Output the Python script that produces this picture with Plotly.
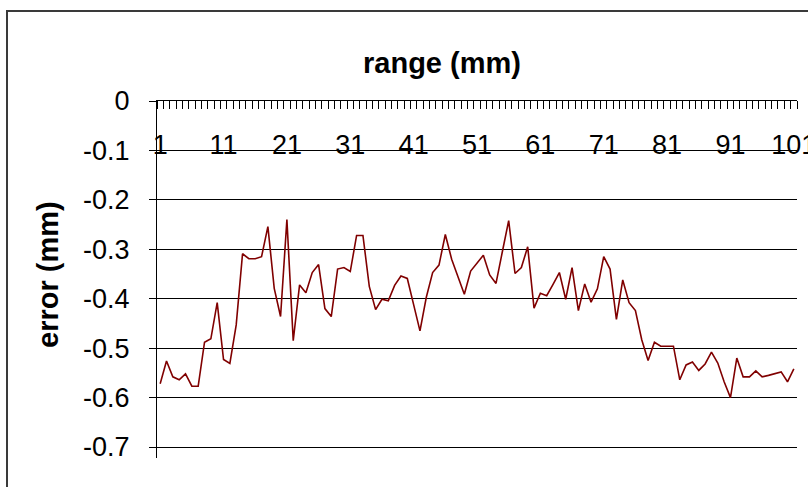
import plotly.graph_objects as go

# Position along the range (categories 1..101) and measured error
positions = list(range(1, 102))
error_mm = [
    -0.572, -0.526, -0.558, -0.564, -0.552, -0.577, -0.577, -0.488, -0.481, -0.408,
    -0.523, -0.531, -0.453, -0.309, -0.319, -0.319, -0.315, -0.254, -0.379, -0.436,
    -0.240, -0.485, -0.372, -0.388, -0.347, -0.331, -0.420, -0.436, -0.340, -0.337,
    -0.345, -0.272, -0.272, -0.375, -0.422, -0.401, -0.404, -0.373, -0.354, -0.359,
    -0.412, -0.465, -0.397, -0.347, -0.332, -0.270, -0.320, -0.354, -0.391, -0.344,
    -0.329, -0.312, -0.352, -0.369, -0.305, -0.242, -0.349, -0.337, -0.295, -0.419,
    -0.389, -0.394, -0.371, -0.347, -0.401, -0.337, -0.424, -0.370, -0.407, -0.380,
    -0.315, -0.340, -0.442, -0.362, -0.408, -0.424, -0.483, -0.525, -0.488, -0.496,
    -0.496, -0.496, -0.564, -0.534, -0.528, -0.545, -0.532, -0.508, -0.530, -0.568,
    -0.600, -0.520, -0.558, -0.558, -0.546, -0.558, -0.555, -0.552, -0.548, -0.568,
    -0.542,
]

x_tick_vals = [1, 11, 21, 31, 41, 51, 61, 71, 81, 91, 101]
x_tick_text = ["1", "11", "21", "31", "41", "51", "61", "71", "81", "91", "101"]
y_tick_vals = [0, -0.1, -0.2, -0.3, -0.4, -0.5, -0.6, -0.7]
y_tick_text = ["0", "-0.1", "-0.2", "-0.3", "-0.4", "-0.5", "-0.6", "-0.7"]

FONT = "Liberation Sans, Arial, sans-serif"
X_RANGE = [0.5, 101.5]

fig = go.Figure()
fig.add_trace(go.Scatter(
    x=positions, y=error_mm, mode="lines",
    line=dict(color="#800000", width=1.6),
    hoverinfo="x+y", showlegend=False,
))

fig.update_layout(
    width=808, height=487,
    margin=dict(l=157, r=11, t=101, b=29, pad=0, autoexpand=False),
    paper_bgcolor="white", plot_bgcolor="white",
    font=dict(family=FONT, size=27, color="black"),
    # category axis sits on the zero line at the top, ticks between categories
    xaxis=dict(
        side="top", range=X_RANGE, automargin=False,
        showticklabels=False, ticks="",
        showgrid=False, zeroline=False,
        showline=True, linecolor="black", linewidth=1,
        minor=dict(ticks="inside", ticklen=8, tick0=0.5, dtick=1,
                   tickcolor="black", tickwidth=1, showgrid=False),
    ),
    # category labels hang just below the zero line
    xaxis2=dict(
        overlaying="x", matches="x", range=X_RANGE, automargin=False,
        anchor="free", position=1.0, side="bottom",
        tickvals=x_tick_vals, ticktext=x_tick_text,
        ticks="", ticklabelstandoff=25, ticklabeloverflow="allow",
        showgrid=False, zeroline=False, showline=False,
        tickfont=dict(family=FONT, size=27, color="black"),
    ),
    yaxis=dict(
        range=[-0.7222, 0], automargin=False,
        tickvals=y_tick_vals, ticktext=y_tick_text,
        ticks="outside", ticklen=7, tickcolor="black", tickwidth=1,
        ticklabelstandoff=14,
        showgrid=True, gridcolor="black", gridwidth=1,
        zeroline=False, showline=True, linecolor="black", linewidth=1,
        tickfont=dict(family=FONT, size=27, color="black"),
    ),
    annotations=[
        dict(text="<b>range (mm)</b>", xref="paper", yref="paper",
             x=(442 - 157) / 640, y=(458 - 63) / 357,
             xanchor="center", yanchor="middle", showarrow=False,
             font=dict(family=FONT, size=29, color="black")),
        dict(text="<b>error (mm)</b>", xref="paper", yref="paper",
             x=(48 - 157) / 640, y=(458 - 275) / 357, textangle=-90,
             xanchor="center", yanchor="middle", showarrow=False,
             font=dict(family=FONT, size=29, color="black")),
    ],
    shapes=[
        dict(type="rect", xref="paper", yref="paper",
             x0=(7 - 157) / 640, x1=1.1, y0=-0.2, y1=(458 - 11) / 357,
             line=dict(color="#3a3a3a", width=2), layer="below"),
    ],
)

# invisible companion trace so the label axis is drawn
fig.add_trace(go.Scatter(
    x=[X_RANGE[0]], y=[None], xaxis="x2", mode="markers",
    showlegend=False, hoverinfo="skip",
))

fig.write_html("out.html")
